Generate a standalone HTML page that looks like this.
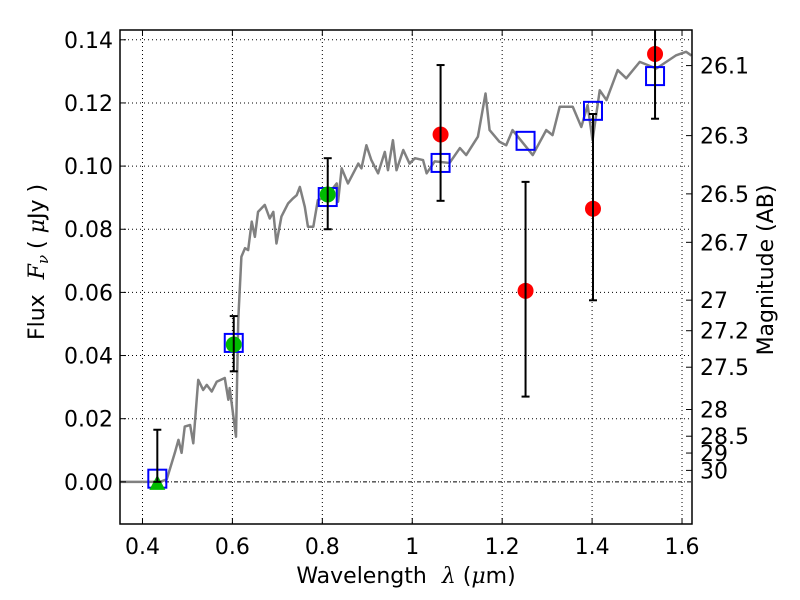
<!DOCTYPE html>
<html><head><meta charset="utf-8"><style>
html,body{margin:0;padding:0;background:#fff;}
svg{display:block;font-family:"DejaVu Sans","Liberation Sans",sans-serif;}
</style></head><body>
<svg id="chart" width="800" height="600"></svg>
<script>
const xTicks=[0.4,0.6,0.8,1.0,1.2,1.4,1.6];
const xTickLabels=["0.4","0.6","0.8","1","1.2","1.4","1.6"];
const yTicks=[0,0.02,0.04,0.06,0.08,0.10,0.12,0.14];
const yTickLabels=["0.00","0.02","0.04","0.06","0.08","0.10","0.12","0.14"];
const magTicks=[26.1,26.3,26.5,26.7,27,27.2,27.5,28,28.5,29,30];
const magLabels=["26.1","26.3","26.5","26.7","27","27.2","27.5","28","28.5","29","30"];
const specLam=[0.35,0.44,0.454,0.472,0.48,0.487,0.494,0.506,0.513,0.524,0.535,0.543,0.554,0.565,0.583,0.591,0.594,0.608,0.613,0.62,0.628,0.635,0.643,0.65,0.657,0.672,0.683,0.691,0.698,0.709,0.724,0.735,0.743,0.75,0.761,0.768,0.78,0.79,0.81,0.832,0.835,0.843,0.857,0.88,0.887,0.898,0.909,0.924,0.939,0.946,0.957,0.965,0.98,0.994,1.006,1.024,1.032,1.05,1.083,1.106,1.12,1.146,1.163,1.172,1.194,1.209,1.223,1.268,1.298,1.312,1.328,1.357,1.376,1.39,1.401,1.417,1.432,1.457,1.476,1.506,1.543,1.565,1.587,1.609,1.621];
const specFlux=[0,0,0.0008,0.0092,0.0133,0.0092,0.0175,0.018,0.0122,0.0323,0.0291,0.0307,0.0286,0.0317,0.0329,0.026,0.0297,0.0143,0.0513,0.0713,0.074,0.0734,0.0824,0.0776,0.0855,0.0877,0.0834,0.0855,0.0755,0.084,0.0882,0.0898,0.0908,0.0934,0.0871,0.0808,0.0808,0.0892,0.0905,0.0945,0.0887,0.0993,0.0945,0.1008,0.0993,0.1066,0.1019,0.0977,0.1045,0.0987,0.1082,0.0987,0.1051,0.1008,0.1025,0.1019,0.0977,0.1015,0.101,0.1057,0.1035,0.1093,0.123,0.1114,0.1077,0.1066,0.1114,0.1035,0.1114,0.1098,0.1188,0.1188,0.1124,0.1193,0.1082,0.124,0.1209,0.1304,0.1278,0.133,0.1309,0.133,0.1351,0.1362,0.135];
const bandLam=[0.433,0.603,0.812,1.063,1.252,1.402,1.54];
const modelFlux=[0.001,0.044,0.0902,0.101,0.108,0.1175,0.1285];
const obsFlux=[0.0,0.0435,0.091,0.110,0.0605,0.0865,0.1355];
const errLo=[0.0,0.035,0.080,0.089,0.027,0.0575,0.115];
const errHi=[0.0165,0.0525,0.1025,0.132,0.095,0.1165,0.146];
const obsKind=["tri","green","green","red","red","red","red"];

const L=120,R=692,T=30,B=524,X0=0.35,X1=1.6222,Y0=-0.01335,Y1=0.1431;
const sx=v=>L+(v-X0)/(X1-X0)*(R-L);
const sy=v=>B-(v-Y0)/(Y1-Y0)*(B-T);
const NS="http://www.w3.org/2000/svg";
const svg=document.getElementById('chart');
function mk(t,a,p){const e=document.createElementNS(NS,t);for(const k in a)e.setAttribute(k,a[k]);(p||svg).appendChild(e);return e;}

const grid=mk('g',{});


xTicks.forEach(v=>{mk('line',{x1:sx(v),x2:sx(v),y1:T,y2:B,stroke:'#000','stroke-width':1,'stroke-dasharray':'1,3'},grid);});
yTicks.forEach(v=>{mk('line',{x1:L,x2:R,y1:sy(v),y2:sy(v),stroke:'#000','stroke-width':1,'stroke-dasharray':v===0?'4,2,1,2':'1,3'},grid);});

const sp=mk('polyline',{points:specLam.map((l,i)=>sx(l)+','+sy(specFlux[i])).join(' '),fill:'none',stroke:'#808080','stroke-width':2.5,'stroke-linejoin':'round'});



bandLam.forEach((l,i)=>{
  const g=mk('g',{});
  
  
  mk('rect',{x:sx(l)-9,y:sy(modelFlux[i])-9,width:18,height:18,fill:'none',stroke:'#0000ff','stroke-width':2},g);
  const cx=sx(l);
  if(obsKind[i]==='tri'){
    const cy=sy(obsFlux[i]);
    mk('polygon',{points:`${cx-8},${cy+8} ${cx+8},${cy+8} ${cx},${cy-7}`,fill:'#00bb00'},g);
  }else{
    mk('circle',{cx:cx,cy:sy(obsFlux[i]),r:8,fill:obsKind[i]==='red'?'#ff0000':'#00bb00'},g);
  }
  const yh=Math.max(sy(errHi[i]),T);
  mk('line',{x1:cx,x2:cx,y1:sy(errLo[i]),y2:yh,stroke:'#000','stroke-width':2},g);
  mk('line',{x1:cx-4,x2:cx+4,y1:sy(errLo[i]),y2:sy(errLo[i]),stroke:'#000','stroke-width':2},g);
  if(sy(errHi[i])>T) mk('line',{x1:cx-4,x2:cx+4,y1:yh,y2:yh,stroke:'#000','stroke-width':2},g);
});

const fr=mk('rect',{x:L,y:T,width:R-L,height:B-T,fill:'none',stroke:'#000','stroke-width':1.5});



xTicks.forEach((v,i)=>{
  mk('line',{x1:sx(v),x2:sx(v),y1:B,y2:B-6,stroke:'#000'});
  mk('line',{x1:sx(v),x2:sx(v),y1:T,y2:T+6,stroke:'#000'});
  const t=mk('text',{x:sx(v),y:B+30,'text-anchor':'middle','font-size':22});
  t.textContent=xTickLabels[i];
  
  
});
yTicks.forEach((v,i)=>{
  mk('line',{x1:L,x2:L+6,y1:sy(v),y2:sy(v),stroke:'#000'});
  const t=mk('text',{x:L-7,y:sy(v)+8,'text-anchor':'end','font-size':22});
  t.textContent=yTickLabels[i];
  
  
});
magTicks.forEach((m,i)=>{
  const f=Math.pow(10,(23.9-m)/2.5);
  mk('line',{x1:R,x2:R-6,y1:sy(f),y2:sy(f),stroke:'#000'});
  const t=mk('text',{x:R+8,y:sy(f)+8,'font-size':22});
  t.textContent=magLabels[i];
  
  
});
const xt=mk('text',{x:406,y:583,'text-anchor':'middle','font-size':22});
xt.innerHTML='Wavelength <tspan dx="8" font-style="italic" font-family="DejaVu Serif, serif">λ</tspan> (<tspan font-style="italic" font-family="DejaVu Serif, serif">μ</tspan>m)';


const yt=mk('text',{x:0,y:0,'text-anchor':'middle','font-size':22,transform:'translate(44,262) rotate(-90)'});
yt.innerHTML='Flux <tspan dx="8" font-style="italic" font-family="DejaVu Serif, serif">F</tspan><tspan font-style="italic" font-size="15" dy="4" font-family="DejaVu Serif, serif">ν</tspan><tspan dy="-4" dx="6">(  </tspan><tspan font-style="italic" font-family="DejaVu Serif, serif">μ</tspan>Jy )';


const rt=mk('text',{x:0,y:0,'text-anchor':'middle','font-size':22,transform:'translate(773,270) rotate(-90)'});
rt.textContent='Magnitude (AB)';


</script>
</body></html>
